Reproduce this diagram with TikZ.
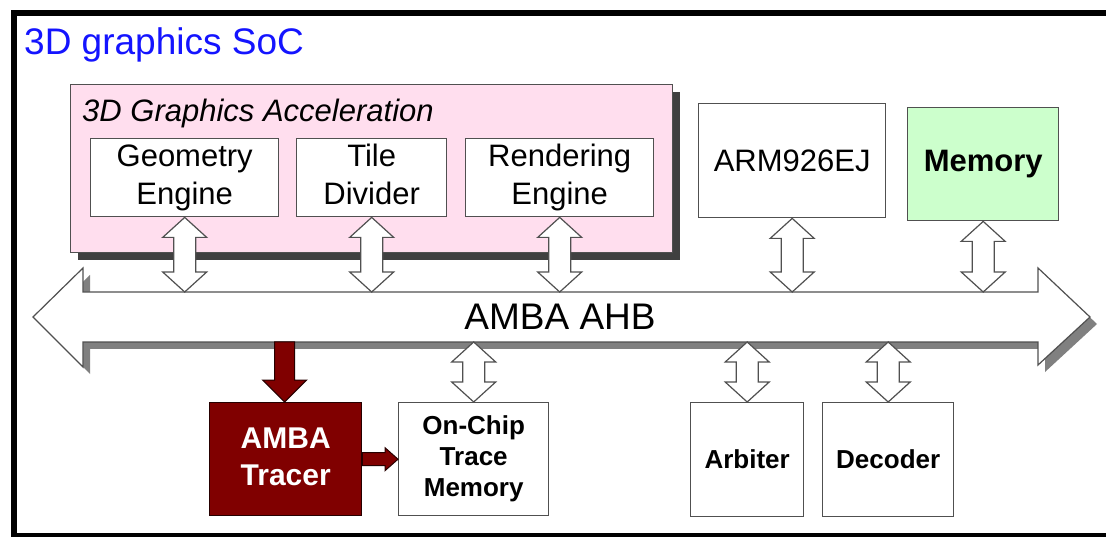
\documentclass[tikz,border=0pt]{standalone}
\usepackage{fontspec}
\setmainfont{Liberation Sans}
\usetikzlibrary{calc}
\definecolor{pinkfill}{RGB}{255,222,238}
\definecolor{greenfill}{RGB}{204,255,204}
\definecolor{boxline}{RGB}{80,80,80}
\definecolor{tracered}{RGB}{128,0,0}
\definecolor{titleblue}{RGB}{20,20,255}
\newcommand\vdarrow[2]{%
  \path[dblarr] let \p1=#1, \p2=#2 in
    (\x1,\y1) -- (\x1+22pt,\y1-20pt) -- (\x1+11pt,\y1-20pt) -- (\x1+11pt,\y2+20pt)
    -- (\x1+22pt,\y2+20pt) -- (\x1,\y2) -- (\x1-22pt,\y2+20pt) -- (\x1-11pt,\y2+20pt)
    -- (\x1-11pt,\y1-20pt) -- (\x1-22pt,\y1-20pt) -- cycle;}
\begin{document}
\begin{tikzpicture}[x=1pt,y=-1pt,
  box/.style={draw=boxline,line width=1.4pt,fill=white,align=center,inner sep=0pt,anchor=north west},
  txtbig/.style={font=\fontsize{31}{38}\selectfont},
  txtbold/.style={font=\fontsize{26}{31}\selectfont\bfseries},
  dblarr/.style={draw=boxline,line width=1.2pt,fill=white,line join=miter},
  redarr/.style={draw=black!70!tracered,line width=1pt,fill=tracered,line join=miter}]
\useasboundingbox (0,0) rectangle (1106,537);
\fill[white] (0,0) rectangle (1106,537);
% outer frame
\draw[line width=6.5pt,black] (14,13) rectangle (1130,536);
\node[anchor=base west,text=titleblue,font=\fontsize{37}{40}\selectfont,inner sep=0pt] (soc) at (24,55) {3D graphics SoC};
% acceleration group
\fill[black!75] (78,92) rectangle (680,260);
\node[box,fill=pinkfill,minimum width=602,minimum height=168] (accel) at (70,84) {};
\node[anchor=base west,inner sep=0pt,font=\fontsize{31}{38}\selectfont\itshape] (acceltitle) at (82,122) {3D Graphics Acceleration};
\node[box,txtbig,minimum width=188,minimum height=78] (geo) at (90,138) {\strut Geometry\\\strut Engine};
\node[box,txtbig,minimum width=150,minimum height=78] (tile) at (296,138) {\strut Tile\\\strut Divider};
\node[box,txtbig,minimum width=188,minimum height=78] (rend) at (465,138) {\strut Rendering\\\strut Engine};
\node[box,txtbig,minimum width=187,minimum height=114] (arm) at (698,103) {ARM926EJ};
\node[box,fill=greenfill,font=\fontsize{31}{38}\selectfont\bfseries,minimum width=151,minimum height=113] (mem) at (907,107) {Memory};
% bus
\coordinate (bustop) at (0,292);
\coordinate (busbot) at (0,342);
\fill[black!50] (40,324) -- (90,275) -- (90,299) -- (1045,299) -- (1045,275) -- (1097,324) -- (1045,372) -- (1045,349) -- (90,349) -- (90,374) -- cycle;
\draw[boxline,line width=1.2pt,fill=white,line join=miter] (33,317) -- (83,268) -- (83,292) -- (1038,292) -- (1038,268) -- (1090,317) -- (1038,365) -- (1038,342) -- (83,342) -- (83,367) -- cycle;
\node[font=\fontsize{37}{40}\selectfont,inner sep=0pt] (bus) at (560,317) {AMBA AHB};
% lower boxes
\node[box,fill=tracered,draw=black!70!tracered,text=white,font=\fontsize{30}{37}\selectfont\bfseries,minimum width=152,minimum height=113] (tracer) at (209,402) {\strut AMBA\\\strut Tracer};
\node[box,txtbold,minimum width=150,minimum height=113] (ocm) at (398,402) {\strut On-Chip\\\strut Trace\\\strut Memory};
\node[box,txtbold,minimum width=113,minimum height=114] (arb) at (690,402) {Arbiter};
\node[box,txtbold,minimum width=131,minimum height=114] (dec) at (822,402) {Decoder};
% double arrows
\vdarrow{(geo.south)}{(geo.south |- bustop)}
\vdarrow{(tile.south)}{(tile.south |- bustop)}
\vdarrow{(rend.south)}{(rend.south |- bustop)}
\vdarrow{(arm.south)}{(arm.south |- bustop)}
\vdarrow{(mem.south)}{(mem.south |- bustop)}
\vdarrow{(ocm.north |- busbot)}{(ocm.north)}
\vdarrow{(arb.north |- busbot)}{(arb.north)}
\vdarrow{(dec.north |- busbot)}{(dec.north)}
% tracer arrows
\path[redarr] let \p1=($(tracer.north)+(-1,0)$), \p2=(busbot) in
  (\x1-10pt,\y2) -- (\x1+10pt,\y2) -- (\x1+10pt,\y1+22pt) -- (\x1+22pt,\y1+22pt)
  -- (\x1,\y1) -- (\x1-22pt,\y1+22pt) -- (\x1-10pt,\y1+22pt) -- cycle;
\path[redarr] let \p1=(tracer.east), \p2=(ocm.west) in
  (\x1,\y1+6.5pt) -- (\x2-13pt,\y1+6.5pt) -- (\x2-13pt,\y1+11.5pt) -- (\x2,\y1)
  -- (\x2-13pt,\y1-11.5pt) -- (\x2-13pt,\y1-6.5pt) -- (\x1,\y1-6.5pt) -- cycle;
\end{tikzpicture}
\end{document}
